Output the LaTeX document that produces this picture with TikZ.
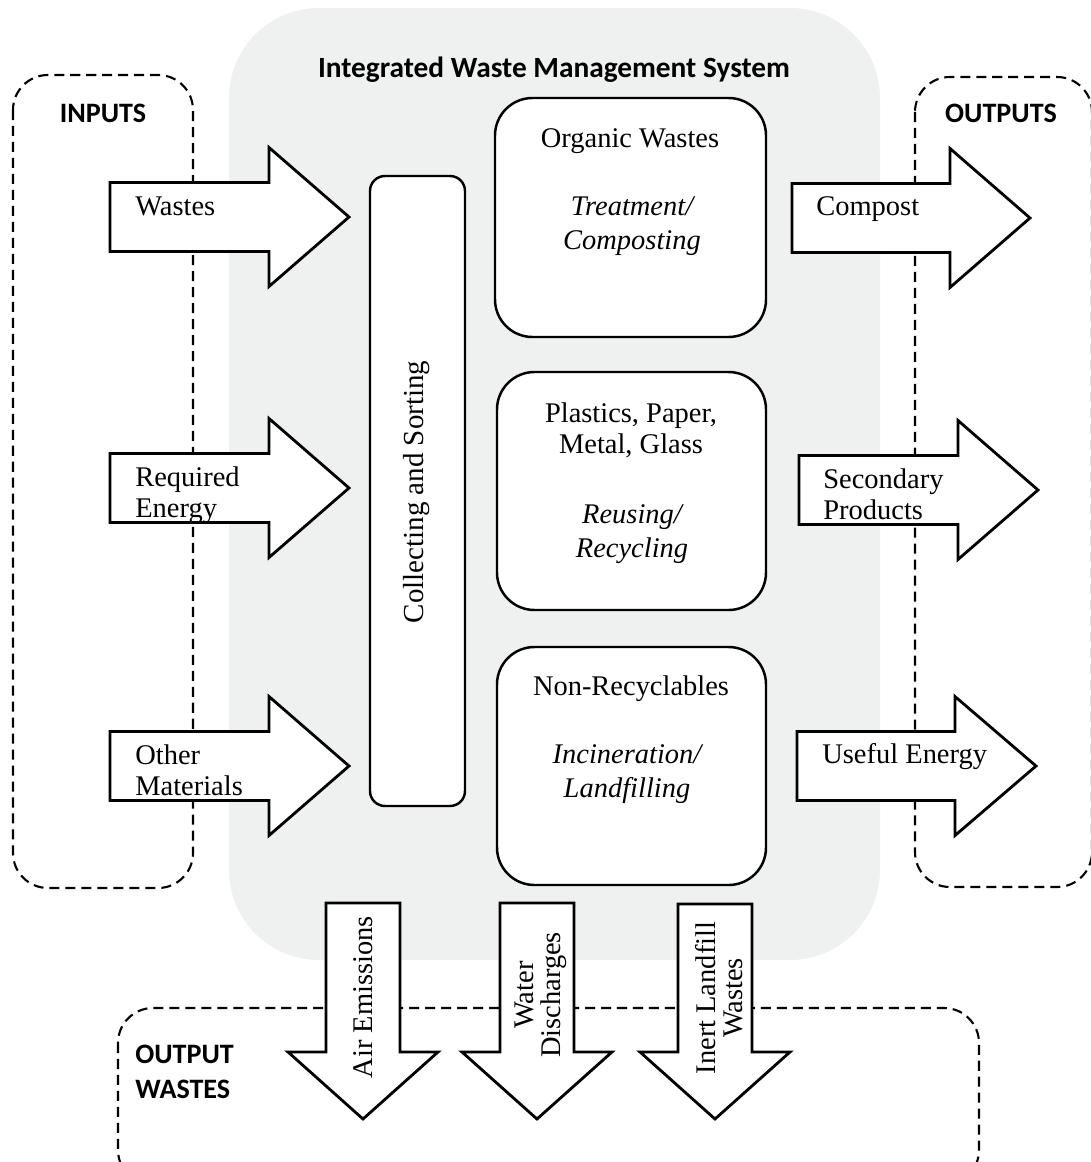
\documentclass[tikz,border=0pt]{standalone}
\usepackage{fontspec}
\setmainfont{Liberation Serif}
\newfontfamily\hdfont{Carlito}
\definecolor{panelgray}{RGB}{239,240,240}
\newcommand\rblk[4]{\draw[blk] (#1,#4-34.5) -- (#2,#4-34.5) -- (#2,#4-69.5) -- (#3,#4) -- (#2,#4+69.5) -- (#2,#4+34.5) -- (#1,#4+34.5) -- cycle;}
\newcommand\dblk[4]{\draw[blk] (#1-37,#2) -- (#1-37,#3) -- (#1-75,#3) -- (#1,#4) -- (#1+75,#3) -- (#1+37,#3) -- (#1+37,#2) -- cycle;}
\begin{document}
\begin{tikzpicture}[x=0.02cm,y=-0.02cm,
  blk/.style={draw=black,fill=white,line width=1.6pt,line join=miter},
  dbox/.style={draw=black,line width=1.2pt,dash pattern=on 5.7pt off 3.4pt,rounded corners=0.7cm},
  procbox/.style={draw=black,fill=white,line width=1.4pt,rounded corners=0.75cm},
  txt/.style={font=\fontsize{16.2}{17.5}\selectfont,inner sep=0pt},
  rtxt/.style={font=\fontsize{16.2}{15.5}\selectfont,inner sep=0pt,rotate=90,align=center},
  itxt/.style={font=\fontsize{16.2}{19.5}\selectfont\itshape,inner sep=0pt,align=center},
  lbl/.style={txt,anchor=west,align=left},
  hd/.style={font=\hdfont\bfseries\fontsize{16}{20}\selectfont,inner sep=0pt,align=left}]
\useasboundingbox (0,0) rectangle (1090,1162);
% system panel
\fill[panelgray,rounded corners=1.8cm] (229,8) rectangle (880,960);
\node[hd,font=\hdfont\bfseries\fontsize{16.7}{20}\selectfont] (title) at (554,70) {Integrated Waste Management System};
% dashed frames
\draw[dbox] (13,75) rectangle (193,888);
\draw[dbox] (915,77) rectangle (1092,887);
\draw[dbox] (118,1008) rectangle (979,1185);
\node[hd] (inputs) at (103,113) {INPUTS};
\node[hd] (outputs) at (1001,113) {OUTPUTS};
\node[hd,anchor=west] (ow) at (135,1072) {OUTPUT\\WASTES};
% input arrows
\rblk{110}{269}{349}{217}
\rblk{110}{269}{349}{488}
\rblk{110}{269}{349}{766}
\node[lbl] (in1) at (135,206) {Wastes};
\node[lbl] (in2) at (135,495) {Required\\Energy};
\node[lbl] (in3) at (135,770) {Other\\Materials};
% output arrows
\rblk{792}{950}{1030}{218}
\rblk{799}{958}{1038}{490}
\rblk{797}{955}{1036}{766}
\node[lbl] (out1) at (816,209) {Compost};
\node[lbl] (out2) at (823,494) {Secondary\\Products};
\node[lbl] (out3) at (822,757) {Useful Energy};
% waste arrows
\dblk{363}{903}{1052}{1119}
\dblk{537}{903}{1052}{1119}
\dblk{715}{904}{1052}{1119}
\node[rtxt] (w1) at (363,997) {Air Emissions};
\node[rtxt] (w2) at (541,995) {Water\\Discharges};
\node[rtxt] (w3) at (719,998) {Inert Landfill\\Wastes};
% collecting
\draw[procbox,rounded corners=0.3cm] (370,176) rectangle (465,806);
\node[txt,rotate=90,font=\fontsize{16.5}{17.5}\selectfont] (coll) at (417,492) {Collecting and Sorting};
% process boxes
\draw[procbox] (495,98) rectangle (766,337);
\draw[procbox] (497,372) rectangle (766,610);
\draw[procbox] (497,647) rectangle (766,885);
\node[txt] (b1a) at (630,141) {Organic Wastes};
\node[itxt] (b1b) at (632,226) {Treatment/\\Composting};
\node[txt,align=center] (b2a) at (631,430) {Plastics, Paper,\\Metal, Glass};
\node[itxt] (b2b) at (632,534) {Reusing/\\Recycling};
\node[txt] (b3a) at (631,689) {Non-Recyclables};
\node[itxt] (b3b) at (627,774) {Incineration/\\Landfilling};
\end{tikzpicture}
\end{document}
